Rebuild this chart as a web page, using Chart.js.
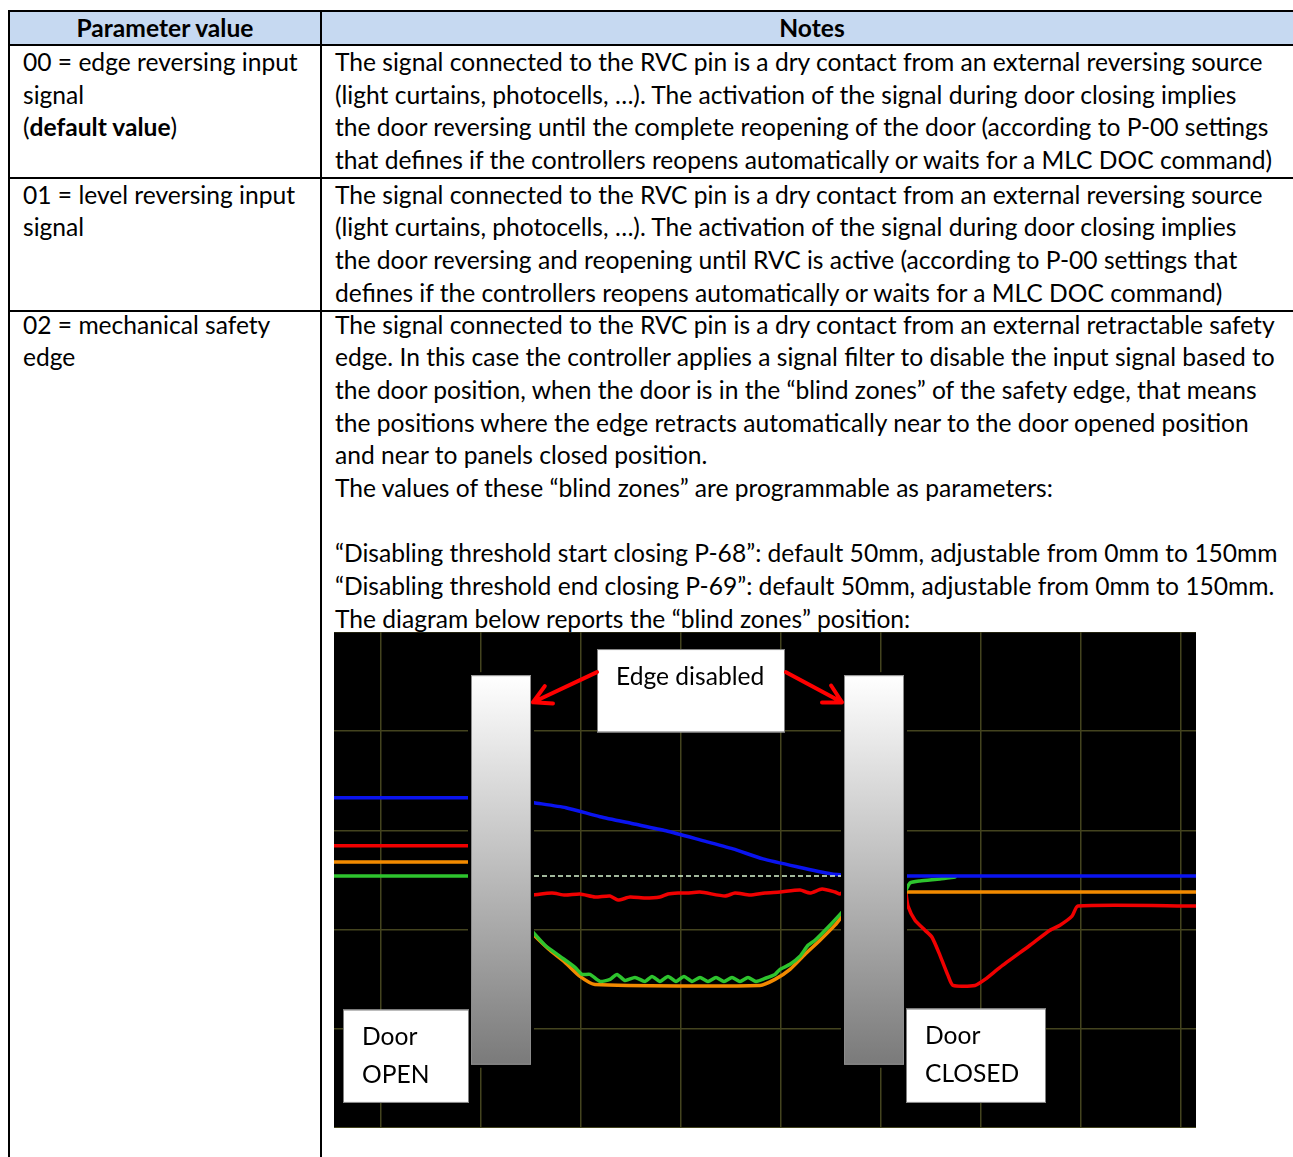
<!DOCTYPE html>
<html>
<head>
<meta charset="utf-8">
<script src="https://cdn.jsdelivr.net/npm/chart.js@4.4.1/dist/chart.umd.min.js"></script>
<style>
    html, body { margin: 0; padding: 0; background: #fff; }
    body { width: 1293px; height: 1157px; overflow: hidden; position: relative; font-family: Lato, "Open Sans", sans-serif; color: #000; }
    table { position: absolute; left: 8px; top: 10px; border-collapse: collapse; table-layout: fixed; width: 1294px; }
    td, th { border: 2px solid #000; vertical-align: top; padding: 0 0 0 13px; font-size: 24.6px; }
    th { background: #c6d9f1; height: 32px; padding: 0; line-height: 32px; font-weight: bold; text-align: center; }
    .ln { height: 32.7px; line-height: 32.7px; white-space: nowrap; }
    tr.r3 td > .ln:first-child { margin-top: -3px; }
    #scope { position: absolute; left: 334px; top: 632px; width: 862px; height: 496px; background: #000; }
</style>
</head>
<body>
<table>
    <colgroup><col style="width:312px"><col style="width:982px"></colgroup>
    <tr><th>Parameter value</th><th>Notes</th></tr>
    <tr style="height:131px">
        <td>
            <div class="ln">00 = edge reversing input</div>
            <div class="ln">signal</div>
            <div class="ln">(<b>default value</b>)</div>
        </td>
        <td>
            <div class="ln">The signal connected to the RVC pin is a dry contact from an external reversing source</div>
            <div class="ln">(light curtains, photocells, …). The activation of the signal during door closing implies</div>
            <div class="ln">the door reversing until the complete reopening of the door (according to P-00 settings</div>
            <div class="ln">that defines if the controllers reopens automatically or waits for a MLC DOC command)</div>
        </td>
    </tr>
    <tr style="height:130px">
        <td>
            <div class="ln">01 = level reversing input</div>
            <div class="ln">signal</div>
        </td>
        <td>
            <div class="ln">The signal connected to the RVC pin is a dry contact from an external reversing source</div>
            <div class="ln">(light curtains, photocells, …). The activation of the signal during door closing implies</div>
            <div class="ln">the door reversing and reopening until RVC is active (according to P-00 settings that</div>
            <div class="ln">defines if the controllers reopens automatically or waits for a MLC DOC command)</div>
        </td>
    </tr>
    <tr class="r3" style="height:900px">
        <td>
            <div class="ln">02 = mechanical safety</div>
            <div class="ln">edge</div>
        </td>
        <td>
            <div class="ln">The signal connected to the RVC pin is a dry contact from an external retractable safety</div>
            <div class="ln">edge. In this case the controller applies a signal filter to disable the input signal based to</div>
            <div class="ln">the door position, when the door is in the “blind zones” of the safety edge, that means</div>
            <div class="ln">the positions where the edge retracts automatically near to the door opened position</div>
            <div class="ln">and near to panels closed position.</div>
            <div class="ln">The values of these “blind zones” are programmable as parameters:</div>
            <div class="ln"></div>
            <div class="ln">“Disabling threshold start closing P-68”: default 50mm, adjustable from 0mm to 150mm</div>
            <div class="ln">“Disabling threshold end closing P-69”: default 50mm, adjustable from 0mm to 150mm.</div>
            <div class="ln">The diagram below reports the “blind zones” position:</div>
        </td>
    </tr>
</table>

<div id="scope"><canvas id="scopeChart"></canvas></div>

<script>
// traces read off the scope capture (x = time, y = level, one grid division = 100)
// null = trace hidden behind a blind-zone bar
const blueTrace = [[-47, 278], [88, 278], null,
    [153, 273], [185, 268], [219, 259], [252, 252], [285, 245], [319, 236], [352, 227],
    [382, 217], [417, 209], [451, 202], [462, 201], null,
    [525, 200], [815, 200]];

const redTrace = [[-47, 230], [88, 230], null,
    [152, 181], [171, 183], [184, 181], [199, 182], [214, 179], [229, 180], [237, 176],
    [249, 179], [264, 178], [279, 179], [287, 182], [297, 183], [306, 183], [319, 184],
    [344, 180], [354, 183], [369, 181], [384, 183], [399, 184], [419, 186], [429, 183],
    [441, 187], [454, 184], [459, 182], [462, 184], null,
    [525, 183], [527, 170], [534, 156], [544, 146], [551, 139], [559, 121], [567, 101],
    [572, 91], [594, 91], [604, 97], [619, 109], [649, 131], [669, 146], [679, 151],
    [691, 160], [697, 170], [815, 170]];

const orangeTrace = [[-47, 214], [88, 214], null,
    [153, 141], [169, 126], [184, 114], [199, 100], [214, 92], [379, 91], [394, 97],
    [409, 107], [424, 122], [439, 136], [454, 151], [462, 161], null,
    [525, 184], [815, 184]];

const greenTrace = [[-47, 200], [88, 200], null,
    [152, 144], [164, 131], [179, 120], [194, 109], [201, 102], [209, 102], [219, 95],
    [229, 97], [236, 102], [244, 96], [254, 99], [264, 95], [271, 100], [279, 95],
    [287, 100], [295, 95], [303, 100], [311, 95], [319, 99], [327, 95], [335, 99],
    [343, 95], [351, 99], [359, 95], [367, 99], [375, 95], [384, 98], [394, 102],
    [399, 107], [409, 112], [419, 120], [427, 131], [434, 136], [449, 151], [462, 165], null,
    [525, 186], [529, 193], [539, 195], [559, 197], [574, 199]];

const refTrace = [[153, 200], [462, 200]];

// blind zones and labels, in the same units as the traces
const blindZones = [[90, 150], [463, 523]];
const zoneTop = 400, zoneBottom = 12;
const labels = [
    { text: ['Edge disabled'], x0: 216, x1: 404, y0: 343, y1: 426 },
    { text: ['Door', 'OPEN'], x0: -38, x1: 88, y0: -26, y1: 67 },
    { text: ['Door', 'CLOSED'], x0: 525, x1: 665, y0: -26, y1: 68 }
];
const arrows = [
    { from: [216, 403], to: [152, 373] },
    { from: [405, 403], to: [461, 373] }
];

function toPoints(trace) {
    let out = [];
    trace.forEach((p, i) => {
        if (p) out.push({ x: p[0], y: p[1] });
        else out.push({ x: trace[i - 1][0] + 1, y: null });
    });
    return out;
}

function traceSet(trace, color, extra) {
    return Object.assign({
        data: toPoints(trace),
        borderColor: color,
        borderWidth: 3.5,
        pointRadius: 0,
        tension: 0.2,
        spanGaps: false,
        borderCapStyle: 'round',
        borderJoinStyle: 'round'
    }, extra || {});
}

const overlay = {
    id: 'overlay',
    afterDatasetsDraw(chart) {
        const ctx = chart.ctx;
        const xs = chart.scales.x, ys = chart.scales.y;
        ctx.save();

        blindZones.forEach(z => {
            const l = xs.getPixelForValue(z[0]), r = xs.getPixelForValue(z[1]);
            const t = ys.getPixelForValue(zoneTop), b = ys.getPixelForValue(zoneBottom);
            ctx.fillStyle = '#000';
            ctx.fillRect(l - 3, t - 3, r - l + 6, b - t + 6);
            const g = ctx.createLinearGradient(0, t, 0, b);
            g.addColorStop(0, '#ffffff');
            g.addColorStop(1, '#7a7a7a');
            ctx.fillStyle = g;
            ctx.fillRect(l, t, r - l, b - t);
            ctx.strokeStyle = '#8c8c8c';
            ctx.lineWidth = 1;
            ctx.strokeRect(l + 0.5, t + 0.5, r - l - 1, b - t - 1);
        });

        labels.forEach(lb => {
            const l = xs.getPixelForValue(lb.x0), r = xs.getPixelForValue(lb.x1);
            const t = ys.getPixelForValue(lb.y1), b = ys.getPixelForValue(lb.y0);
            ctx.fillStyle = '#fff';
            ctx.fillRect(l, t, r - l, b - t);
            ctx.strokeStyle = '#7f7f7f';
            ctx.lineWidth = 1;
            ctx.strokeRect(l + 0.5, t + 0.5, r - l - 1, b - t - 1);
            ctx.fillStyle = '#000';
            ctx.font = '24.6px Lato, "Open Sans", sans-serif';
            ctx.textBaseline = 'middle';
            lb.text.forEach((s, i) => ctx.fillText(s, l + 19, t + 28 + i * 38));
        });

        ctx.strokeStyle = '#ff0000';
        ctx.lineWidth = 4;
        ctx.lineCap = 'round';
        ctx.lineJoin = 'round';
        arrows.forEach(a => {
            const x1 = xs.getPixelForValue(a.from[0]), y1 = ys.getPixelForValue(a.from[1]);
            const x2 = xs.getPixelForValue(a.to[0]), y2 = ys.getPixelForValue(a.to[1]);
            const ang = Math.atan2(y2 - y1, x2 - x1);
            ctx.beginPath();
            ctx.moveTo(x1, y1);
            ctx.lineTo(x2, y2);
            ctx.moveTo(x2 - 20 * Math.cos(ang - 0.5), y2 - 20 * Math.sin(ang - 0.5));
            ctx.lineTo(x2, y2);
            ctx.lineTo(x2 - 20 * Math.cos(ang + 0.5), y2 - 20 * Math.sin(ang + 0.5));
            ctx.stroke();
        });
        ctx.restore();
    }
};

const scopeChart = new Chart(document.getElementById('scopeChart'), {
    type: 'line',
    data: {
        datasets: [
            traceSet(refTrace, '#d8f5d0', { borderWidth: 1.5, borderDash: [5, 3], borderCapStyle: 'butt', tension: 0 }),
            traceSet(blueTrace, '#0a14f0'),
            traceSet(greenTrace, '#2ec42e'),
            traceSet(orangeTrace, '#f28a00'),
            traceSet(redTrace, '#f00000')
        ]
    },
    options: {
        responsive: true,
        maintainAspectRatio: false,
        animation: false,
        layout: { padding: 0 },
        plugins: { legend: { display: false }, tooltip: { enabled: false } },
        scales: {
            x: {
                type: 'linear',
                min: -47,
                max: 815,
                ticks: { display: false, stepSize: 100, includeBounds: false },
                grid: { color: '#44441f', lineWidth: 1.5, drawTicks: false },
                border: { display: false }
            },
            y: {
                type: 'linear',
                min: -51,
                max: 443,
                ticks: { display: false, stepSize: 100, includeBounds: false },
                grid: { color: '#44441f', lineWidth: 1.5, drawTicks: false },
                border: { display: false }
            }
        }
    },
    plugins: [overlay]
});
</script>
</body>
</html>
